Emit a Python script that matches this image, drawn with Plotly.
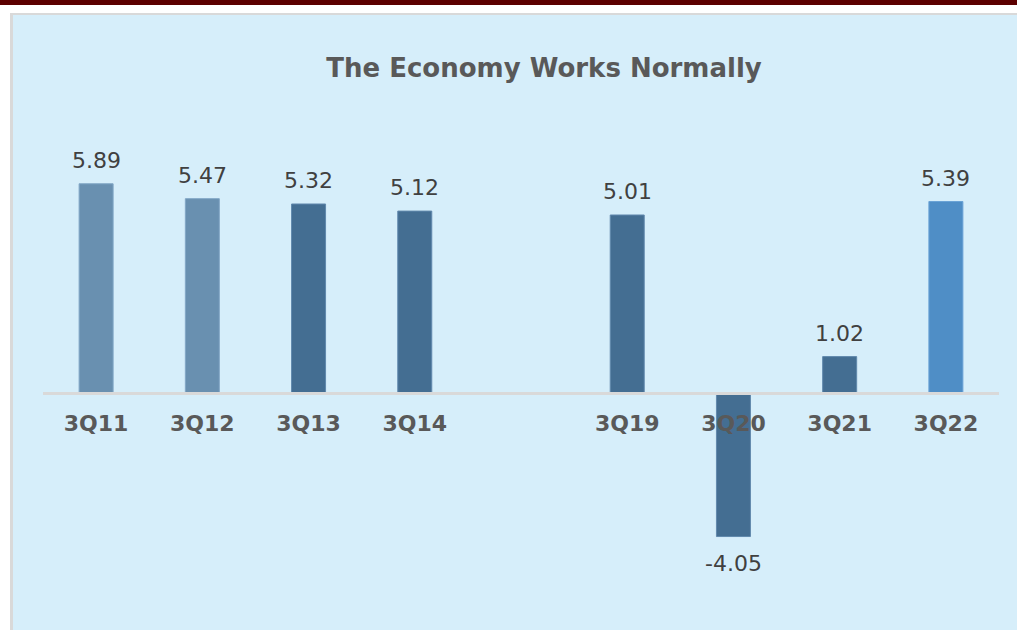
import plotly.graph_objects as go

categories = ["3Q11", "3Q12", "3Q13", "3Q14", " ", "3Q19", "3Q20", "3Q21", "3Q22"]
values = [5.89, 5.47, 5.32, 5.12, None, 5.01, -4.05, 1.02, 5.39]
labels = ["5.89", "5.47", "5.32", "5.12", "", "5.01", "-4.05", "1.02", "5.39"]
bar_colors = ["#6990b0", "#6990b0", "#446e92", "#446e92", "#446e92",
              "#446e92", "#446e92", "#446e92", "#4f8ec6"]
line_colors = ["#82a7c6", "#82a7c6", "#6189ad", "#6189ad", "#6189ad",
               "#6189ad", "#6189ad", "#6189ad", "#6aa3d6"]

W, H = 1017, 630
ML, MR, MT, MB = 43, 18, 100, 42
PW = W - ML - MR
PH = H - MT - MB

def px_x(p):
    return (p - ML) / PW

def px_y(p):
    return (H - MB - p) / PH

fig = go.Figure()
fig.add_trace(go.Bar(
    x=categories, y=values, width=0.32,
    marker=dict(color=bar_colors, line=dict(color=line_colors, width=1)),
    hoverinfo="skip", showlegend=False,
))

lab_font = dict(family="DejaVu Sans", size=22, color="#404040")
annotations = []
for c, v, t in zip(categories, values, labels):
    if v is None:
        continue
    if v >= 0:
        annotations.append(dict(x=c, y=v, text=t, showarrow=False, yanchor="bottom",
                                yshift=9, font=lab_font))
    else:
        annotations.append(dict(x=c, y=v, text=t, showarrow=False, yanchor="top",
                                yshift=-12, font=lab_font))

bg = "#d6eefa"
shapes = [
    dict(type="rect", xref="paper", yref="paper", x0=px_x(-5), x1=px_x(W + 5),
         y0=px_y(15), y1=px_y(-5), fillcolor="white", line=dict(width=0), layer="below"),
    dict(type="rect", xref="paper", yref="paper", x0=px_x(-5), x1=px_x(13),
         y0=px_y(H + 5), y1=px_y(-5), fillcolor="white", line=dict(width=0), layer="below"),
    dict(type="rect", xref="paper", yref="paper", x0=px_x(10), x1=px_x(W + 5),
         y0=px_y(15), y1=px_y(13), fillcolor="#d9d9d9", line=dict(width=0), layer="below"),
    dict(type="rect", xref="paper", yref="paper", x0=px_x(10), x1=px_x(13),
         y0=px_y(H + 5), y1=px_y(13), fillcolor="#d9d9d9", line=dict(width=0), layer="below"),
    dict(type="rect", xref="paper", yref="paper", x0=px_x(-5), x1=px_x(W + 5),
         y0=px_y(5), y1=px_y(-5), fillcolor="#5c0000", line=dict(width=0), layer="below"),
]

zero_pos = px_y(393)

fig.update_layout(
    width=W, height=H,
    margin=dict(l=ML, r=MR, t=MT, b=MB),
    paper_bgcolor=bg, plot_bgcolor=bg,
    title=dict(text="<b>The Economy Works Normally</b>", x=544 / W, xanchor="center",
               y=1 - 68 / H, yanchor="middle", xref="container", yref="container",
               font=dict(family="DejaVu Sans", size=26, color="#595959")),
    xaxis=dict(type="category", categoryorder="array", categoryarray=categories,
               range=[-0.5, 8.5], anchor="free", position=zero_pos,
               showline=True, linecolor="#d9d9d9", linewidth=3,
               showgrid=False, zeroline=False,
               ticks="outside", ticklen=10, tickcolor="rgba(0,0,0,0)",
               tickfont=dict(family="DejaVu Sans", size=22, color="#595959"),
               tickprefix="<b>", ticksuffix="</b>", fixedrange=True),
    yaxis=dict(range=[-5.5, 8.25], visible=False, fixedrange=True),
    annotations=annotations,
    shapes=shapes,
    hovermode=False,
)

fig.write_html("out.html", config={"displayModeBar": False, "staticPlot": True},
               post_script="document.body.style.margin='0';document.body.style.overflow='hidden';")
